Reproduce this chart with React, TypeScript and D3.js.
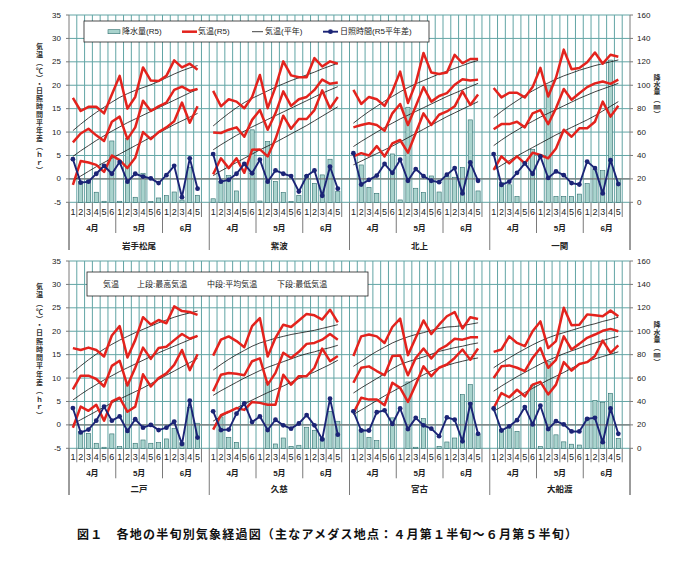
import React from "react";
import * as d3 from "d3";

// ---------------- data ----------------
// 岩手松尾
const matsuoMax = [17.3, 14.5, 15.4, 15.4, 14.0, 18.0, 22.0, 15.0, 17.5, 23.8, 21.0, 20.9, 22.0, 25.3, 23.8, 24.6, 23.3];
const matsuoMean = [7.8, 9.7, 10.7, 9.3, 8.1, 12.2, 13.3, 8.5, 11.0, 16.7, 14.5, 15.5, 16.3, 19.0, 19.7, 18.8, 19.2];
const matsuoMin = [-1.3, 3.8, 3.5, 3.0, 1.5, 5.0, 4.0, 2.3, 4.5, 10.0, 8.5, 10.0, 11.0, 12.3, 16.3, 12.0, 15.5];
const matsuoNMax = [10.3, 11.7, 13.0, 14.2, 15.3, 16.4, 17.4, 18.2, 18.9, 19.5, 20.1, 20.8, 21.6, 22.4, 23.1, 23.7, 24.2];
const matsuoNMean = [4.8, 6.0, 7.1, 8.2, 9.2, 10.2, 11.1, 12.0, 12.8, 13.6, 14.4, 15.2, 16.0, 16.8, 17.6, 18.4, 19.1];
const matsuoNMin = [-0.4, 0.6, 1.6, 2.6, 3.5, 4.4, 5.3, 6.2, 7.1, 8.0, 8.9, 9.8, 10.7, 11.6, 12.4, 13.2, 14.0];
const matsuoSun = [4.2, -0.8, -0.6, 1.1, 2.8, 1.1, 3.6, -0.6, 1.1, 0.5, 0.1, -0.9, 0.8, 2.8, -3.9, 4.4, -2.1];
const matsuoRain = [0, 17.7, 18.5, 8.6, 0.9, 52.4, 0.9, 54.7, 4.3, 24.8, 0.6, 3.7, 5.7, 8.8, 2, 30, 6];

// 紫波
const shiwaMax = [18.8, 15.5, 17.0, 16.5, 15.1, 17.5, 22.2, 15.1, 19.6, 25.1, 22.1, 21.7, 21.7, 25.8, 24.0, 25.1, 24.6];
const shiwaMean = [9.9, 9.8, 10.5, 11.0, 9.0, 12.6, 14.7, 10.5, 14.0, 18.7, 15.6, 17.0, 17.5, 19.0, 21.2, 20.3, 20.6];
const shiwaMin = [1.0, 4.4, 2.3, 4.4, 1.3, 6.2, 6.3, 4.8, 8.5, 13.5, 10.7, 12.8, 12.8, 14.7, 18.9, 15.1, 17.5];
const shiwaNMax = [11.3, 12.7, 14.0, 15.2, 16.3, 17.2, 18.0, 18.8, 19.6, 20.3, 21.0, 21.6, 22.2, 22.8, 23.5, 24.1, 24.7];
const shiwaNMean = [6.2, 7.3, 8.3, 9.3, 10.2, 11.1, 11.9, 12.7, 13.5, 14.3, 15.1, 15.9, 16.7, 17.5, 18.3, 19.0, 19.7];
const shiwaNMin = [0.7, 1.7, 2.6, 3.5, 4.4, 5.3, 6.2, 7.0, 7.8, 8.7, 9.6, 10.5, 11.4, 12.4, 13.4, 14.4, 15.4];
const shiwaSun = [5.3, -0.6, -0.2, 1.1, 3.2, 1.2, 4.1, -0.6, 1.8, 1.1, 0.6, -2.7, 0.6, 1.8, -3.6, 2.6, -2.1];
const shiwaRain = [3, 17.7, 22.8, 9.7, 0, 61.9, 1.1, 51.9, 17.7, 8.3, 0.6, 6.0, 22.8, 16.2, 23.4, 36.8, 9.1];

// 北上
const kitakamiMax = [19.0, 16.0, 17.5, 17.0, 15.6, 18.7, 22.9, 16.2, 20.4, 26.9, 22.7, 22.4, 22.7, 26.5, 24.7, 25.6, 25.6];
const kitakamiMean = [11.0, 11.5, 11.9, 11.5, 10.3, 14.0, 16.0, 11.5, 15.5, 19.6, 16.5, 17.7, 18.3, 20.1, 21.3, 21.0, 21.2];
const kitakamiMin = [4.8, 5.5, 5.0, 7.0, 4.8, 7.6, 8.3, 5.6, 9.8, 14.0, 11.5, 13.7, 14.4, 15.5, 18.7, 15.8, 18.0];
const kitakamiNMax = [11.9, 13.2, 14.4, 15.5, 16.6, 17.6, 18.6, 19.5, 20.3, 21.0, 21.7, 22.4, 23.0, 23.6, 24.2, 24.8, 25.3];
const kitakamiNMean = [6.9, 8.0, 9.0, 10.0, 11.0, 11.9, 12.8, 13.6, 14.4, 15.2, 16.0, 16.8, 17.6, 18.3, 19.0, 19.7, 20.4];
const kitakamiNMin = [3.0, 3.8, 4.6, 5.4, 6.2, 7.0, 7.9, 8.8, 9.7, 10.6, 11.5, 12.4, 13.3, 14.1, 14.9, 15.7, 16.5];
const kitakamiSun = [5.5, -1.2, -0.2, 0.7, 3.2, 1.3, 4.1, -0.4, 2.1, 0.6, -0.4, -0.7, 0.9, 2.3, -3.1, 3.5, -0.4];
const kitakamiRain = [0, 31.9, 12.8, 7.7, 0, 41.3, 2, 81.2, 12, 8.3, 22.5, 8.8, 22.5, 21.4, 29.9, 70.4, 9.7];

// 一関
const ichinosekiMax = [19.4, 17.4, 18.4, 18.4, 17.4, 19.6, 23.7, 17.6, 21.6, 27.6, 23.4, 23.7, 24.9, 27.0, 24.6, 26.5, 26.1];
const ichinosekiMean = [10.6, 11.7, 11.7, 12.2, 11.0, 14.0, 14.7, 11.7, 15.1, 19.2, 16.9, 18.3, 19.6, 20.4, 20.8, 20.3, 21.2];
const ichinosekiMin = [1.9, 4.8, 3.3, 4.8, 3.3, 5.6, 5.1, 4.4, 6.5, 10.5, 9.0, 10.8, 10.8, 12.2, 16.5, 13.3, 15.6];
const ichinosekiNMax = [13.1, 14.4, 15.6, 16.7, 17.8, 18.8, 19.7, 20.5, 21.3, 22.0, 22.6, 23.2, 23.7, 24.2, 24.6, 25.0, 25.4];
const ichinosekiNMean = [7.1, 8.3, 9.4, 10.4, 11.4, 12.3, 13.2, 14.0, 14.8, 15.6, 16.4, 17.2, 17.9, 18.6, 19.2, 19.8, 20.4];
const ichinosekiNMin = [1.9, 2.9, 3.9, 4.9, 5.8, 6.7, 7.6, 8.5, 9.4, 10.2, 11.0, 11.8, 12.6, 13.5, 14.5, 15.5, 16.5];
const ichinosekiSun = [5.3, -1.3, -0.6, 1.3, 3.3, 1.1, 4.8, 0.2, 1.6, 0.8, -0.9, -1.2, 3.7, 2.3, -3.1, 4.0, -1.1];
const ichinosekiRain = [0, 17, 15, 5, 0, 45, 1, 100, 5, 5, 5, 7, 16, 28, 27, 121.5, 20];

// 二戸
const ninoheMax = [16.4, 16.0, 16.5, 16.0, 14.6, 19.1, 21.1, 14.4, 18.1, 23.0, 21.4, 22.4, 21.7, 25.3, 24.3, 24.1, 23.5];
const ninoheMean = [7.6, 10.5, 10.5, 9.8, 8.2, 12.6, 13.7, 8.4, 12.2, 16.5, 14.1, 16.4, 16.7, 18.1, 19.4, 18.4, 19.0];
const ninoheMin = [-0.6, 3.9, 3.0, 4.3, 0.9, 5.0, 5.8, 2.8, 3.9, 10.8, 8.2, 10.0, 11.0, 12.8, 16.0, 11.7, 15.1];
const ninoheNMax = [11.2, 12.6, 13.9, 15.1, 16.2, 17.2, 18.1, 18.9, 19.7, 20.4, 21.1, 21.8, 22.4, 23.0, 23.5, 23.9, 24.3];
const ninoheNMean = [5.3, 6.5, 7.6, 8.6, 9.6, 10.5, 11.4, 12.2, 13.0, 13.8, 14.6, 15.4, 16.1, 16.8, 17.5, 18.2, 18.9];
const ninoheNMin = [0.2, 1.1, 2.0, 2.9, 3.8, 4.7, 5.5, 6.3, 7.1, 7.9, 8.8, 9.7, 10.6, 11.5, 12.4, 13.3, 14.2];
const ninoheSun = [3.6, -1.6, -1.0, 0.9, 3.9, 0.9, 1.8, -1.3, 1.2, -0.6, 0.0, -1.1, -0.6, 0.7, -4.1, 5.2, -2.7];
const ninoheRain = [0, 14.2, 12.8, 4.3, 0.9, 12.3, 1.4, 55.6, 4.3, 7.1, 4.3, 4.8, 8, 17.1, 5, 35, 21.4];

// 久慈
const kujiMax = [14.8, 18.2, 18.9, 17.9, 16.6, 21.1, 22.8, 14.6, 18.6, 21.4, 20.9, 22.3, 23.7, 23.4, 22.5, 24.6, 21.9];
const kujiMean = [7.2, 10.7, 11.1, 10.9, 10.6, 13.6, 14.2, 8.6, 11.1, 15.4, 14.3, 15.6, 17.3, 17.5, 18.2, 19.4, 18.2];
const kujiMin = [-1.0, 2.1, 2.8, 3.6, 3.2, 4.9, 4.7, 4.3, 4.3, 10.7, 8.6, 10.4, 10.4, 12.2, 16.3, 13.6, 14.7];
const kujiNMax = [11.7, 12.9, 14.0, 15.0, 15.9, 16.8, 17.5, 18.0, 18.5, 18.9, 19.3, 19.6, 19.9, 20.2, 20.6, 21.0, 21.4];
const kujiNMean = [6.3, 7.3, 8.2, 9.1, 10.0, 10.8, 11.6, 12.3, 12.9, 13.5, 14.1, 14.7, 15.2, 15.6, 16.1, 16.5, 17.0];
const kujiNMin = [0.8, 1.8, 2.7, 3.6, 4.5, 5.3, 6.1, 6.9, 7.6, 8.3, 9.1, 9.9, 10.6, 11.3, 12.1, 12.9, 13.8];
const kujiSun = [2.9, -1.1, -1.0, 2.4, 4.6, 0.6, 1.8, -1.1, 1.1, -0.1, -0.8, 0.3, 2.1, -0.1, -3.1, 5.6, -2.1];
const kujiRain = [0, 26.8, 9.4, 5.1, 0, 0, 0, 56.7, 3.7, 8.8, 1.7, 2.6, 18, 15.4, 8.8, 31.6, 23.1];

// 宮古
const miyakoMax = [14.7, 18.9, 19.3, 18.9, 17.5, 20.9, 22.7, 14.9, 18.6, 22.3, 19.4, 21.4, 23.2, 24.1, 20.6, 23.0, 22.6];
const miyakoMean = [9.0, 12.2, 12.5, 11.5, 10.6, 14.7, 14.8, 10.6, 14.3, 16.3, 14.2, 16.1, 17.0, 18.4, 18.2, 18.7, 18.7];
const miyakoMin = [2.5, 5.8, 5.4, 5.4, 4.2, 9.0, 7.9, 4.9, 8.6, 12.5, 10.4, 12.2, 12.9, 14.3, 16.1, 13.9, 16.3];
const miyakoNMax = [12.5, 13.6, 14.7, 15.7, 16.6, 17.5, 18.2, 18.8, 19.3, 19.7, 20.2, 20.6, 20.9, 21.0, 21.2, 21.5, 21.8];
const miyakoNMean = [6.8, 7.9, 8.9, 9.9, 10.9, 12.0, 12.9, 13.5, 14.0, 14.5, 15.1, 15.7, 16.1, 16.5, 16.8, 17.2, 17.5];
const miyakoNMin = [2.2, 3.2, 4.2, 5.2, 6.2, 7.1, 8.0, 8.9, 9.8, 10.7, 11.5, 12.2, 12.7, 13.2, 13.6, 14.0, 14.3];
const miyakoSun = [2.9, -1.2, -1.2, 2.7, 3.1, 0.2, 3.5, -0.9, 1.5, -0.1, -0.8, -2.4, 1.6, 1.1, -3.5, 4.5, -1.9];
const miyakoRain = [0, 16, 9.4, 6.6, 0, 26, 0, 56.7, 0.9, 25.4, 0, 1.7, 5.4, 8.8, 45.9, 54.4, 11.7];

// 大船渡
const ofunatoMax = [15.6, 16.1, 18.9, 17.5, 16.8, 20.0, 22.1, 16.4, 17.9, 25.0, 21.3, 21.4, 23.6, 23.4, 23.2, 24.4, 23.2];
const ofunatoMean = [10.0, 12.5, 12.7, 12.2, 11.5, 14.3, 16.4, 12.2, 13.9, 18.9, 16.1, 17.3, 18.6, 19.3, 20.1, 20.5, 20.0];
const ofunatoMin = [3.6, 6.8, 5.9, 7.5, 6.1, 8.6, 9.2, 6.5, 8.6, 13.4, 11.6, 13.0, 13.4, 14.7, 18.0, 15.4, 17.0];
const ofunatoNMax = [12.2, 13.3, 14.3, 15.3, 16.2, 17.1, 17.9, 18.6, 19.2, 19.7, 20.2, 20.7, 21.2, 21.6, 22.1, 22.5, 23.0];
const ofunatoNMean = [7.2, 8.3, 9.3, 10.3, 11.2, 12.1, 13.0, 13.8, 14.5, 15.2, 15.8, 16.4, 17.0, 17.5, 18.0, 18.5, 18.9];
const ofunatoNMin = [2.9, 3.9, 4.9, 5.9, 6.9, 7.8, 8.7, 9.6, 10.4, 11.2, 12.1, 12.9, 13.5, 14.1, 14.6, 15.1, 15.6];
const ofunatoSun = [3.5, -1.2, -0.3, 1.0, 3.8, 0.1, 4.1, -0.9, 0.8, 0.1, -1.4, -1.4, 1.3, 1.5, -3.7, 3.5, -1.9];
const ofunatoRain = [0, 16, 17.4, 14.5, 0, 54, 1.5, 74, 11.5, 5.5, 3.5, 2.8, 25, 41, 39, 47, 8.5];

// labels
const halfLabels = ["1", "2", "3", "4", "5", "6", "1", "2", "3", "4", "5", "6", "1", "2", "3", "4", "5"];
const monthLabels = ["4月", "5月", "6月"];
const leftTicks = [-5, 0, 5, 10, 15, 20, 25, 30, 35];
const rightTicks = [0, 20, 40, 60, 80, 100, 120, 140, 160];
const leftTitle = "気温（℃）・日照時間平年差（ｈｒ）";
const rightTitle = "降水量（㎜）";
const caption = "図１　各地の半旬別気象経過図（主なアメダス地点：４月第１半旬～６月第５半旬）";

type St = {
  name: string; max: number[]; mean: number[]; min: number[];
  nmax: number[]; nmean: number[]; nmin: number[]; sun: number[]; rain: number[];
};

const topStations: St[] = [
  { name: "岩手松尾", max: matsuoMax, mean: matsuoMean, min: matsuoMin, nmax: matsuoNMax, nmean: matsuoNMean, nmin: matsuoNMin, sun: matsuoSun, rain: matsuoRain },
  { name: "紫波", max: shiwaMax, mean: shiwaMean, min: shiwaMin, nmax: shiwaNMax, nmean: shiwaNMean, nmin: shiwaNMin, sun: shiwaSun, rain: shiwaRain },
  { name: "北上", max: kitakamiMax, mean: kitakamiMean, min: kitakamiMin, nmax: kitakamiNMax, nmean: kitakamiNMean, nmin: kitakamiNMin, sun: kitakamiSun, rain: kitakamiRain },
  { name: "一関", max: ichinosekiMax, mean: ichinosekiMean, min: ichinosekiMin, nmax: ichinosekiNMax, nmean: ichinosekiNMean, nmin: ichinosekiNMin, sun: ichinosekiSun, rain: ichinosekiRain },
];
const bottomStations: St[] = [
  { name: "二戸", max: ninoheMax, mean: ninoheMean, min: ninoheMin, nmax: ninoheNMax, nmean: ninoheNMean, nmin: ninoheNMin, sun: ninoheSun, rain: ninoheRain },
  { name: "久慈", max: kujiMax, mean: kujiMean, min: kujiMin, nmax: kujiNMax, nmean: kujiNMean, nmin: kujiNMin, sun: kujiSun, rain: kujiRain },
  { name: "宮古", max: miyakoMax, mean: miyakoMean, min: miyakoMin, nmax: miyakoNMax, nmean: miyakoNMean, nmin: miyakoNMin, sun: miyakoSun, rain: miyakoRain },
  { name: "大船渡", max: ofunatoMax, mean: ofunatoMean, min: ofunatoMin, nmax: ofunatoNMax, nmean: ofunatoNMean, nmin: ofunatoNMin, sun: ofunatoSun, rain: ofunatoRain },
];

// ---------------- layout / style ----------------
const X0 = 69;
const X1 = 630;
const NCAT = 72;
const PER = 18;
const PLOT_H = 187.3;
const FONT = "'Liberation Sans', Arial, 'Noto Sans CJK JP', sans-serif";
const JFONT = "'Noto Sans CJK JP', sans-serif";
const GRID = "#62a5a5";
const AXIS = "#7a7a7a";
const RED = "#e3231d";
const NAVY = "#1b2476";
const BAR_FILL = "#a9d3cd";
const BAR_STROKE = "#2f6e6e";

type Offs = { num: number; numSep: number; mon: number; monSep: number; sta: number; staSep: number; lt0: number; ltLen: number; rt0: number; rtLen: number };

function Panel({ top, stations, offs, legend }: { top: number; stations: St[]; offs: Offs; legend: React.ReactNode }) {
  const bottom = top + PLOT_H;
  const x = d3.scaleLinear().domain([0, NCAT]).range([X0, X1]);
  const y = d3.scaleLinear().domain([-5, 35]).range([bottom, top]);
  const yR = d3.scaleLinear().domain([0, 160]).range([bottom, top]);
  const cats = d3.range(NCAT + 1);

  const mk = (s: number) =>
    d3.line<number>().x((_, i) => x(s * PER + i + 0.5)).y((d) => y(d));

  const vStyle: React.CSSProperties = { writingMode: "vertical-rl" as any, textOrientation: "upright" as any };

  return (
    <g>
      {leftTicks.map((t) => (
        <line key={"h" + t} x1={X0} x2={X1} y1={y(t)} y2={y(t)} stroke={GRID} strokeWidth={1} />
      ))}
      {cats.slice(1, NCAT).map((k) => (
        <line key={"v" + k} x1={x(k)} x2={x(k)} y1={top} y2={bottom} stroke={GRID} strokeWidth={1} />
      ))}
      {stations.map((st, s) =>
        st.rain.map((r, i) =>
          r > 0 ? (
            <rect key={`b${s}-${i}`} x={x(s * PER + i + 0.5) - 2.1} y={yR(r)} width={4.2}
              height={bottom - yR(r)} fill={BAR_FILL} stroke={BAR_STROKE} strokeWidth={0.6} />
          ) : null
        )
      )}
      <line x1={X0} x2={X1} y1={y(0)} y2={y(0)} stroke={AXIS} strokeWidth={1.4} />
      {stations.map((st, s) => {
        const line = mk(s);
        return (
          <g key={"l" + s} fill="none">
            {[st.nmax, st.nmean, st.nmin].map((arr, j) => (
              <path key={"n" + j} d={line(arr) || ""} stroke="#111" strokeWidth={0.8} />
            ))}
            {[st.max, st.mean, st.min].map((arr, j) => (
              <path key={"r" + j} d={line(arr) || ""} stroke={RED} strokeWidth={2.5} strokeLinejoin="round" />
            ))}
            <path d={line(st.sun) || ""} stroke={NAVY} strokeWidth={1.9} strokeLinejoin="round" />
            {st.sun.map((v, i) => (
              <circle key={"c" + i} cx={x(s * PER + i + 0.5)} cy={y(v)} r={2.4} fill={NAVY} />
            ))}
          </g>
        );
      })}
      <line x1={X0} x2={X0} y1={top} y2={bottom + offs.staSep} stroke={AXIS} strokeWidth={1} />
      <line x1={X1} x2={X1} y1={top} y2={bottom + offs.staSep} stroke={AXIS} strokeWidth={1} />
      {leftTicks.map((t) => (
        <g key={"lt" + t}>
          <line x1={X0 - 3} x2={X0} y1={y(t)} y2={y(t)} stroke={AXIS} />
          <text x={X0 - 8} y={y(t)} textAnchor="end" dominantBaseline="central" fontSize={8} fontFamily={FONT} fill="#222">{t}</text>
        </g>
      ))}
      {rightTicks.map((t) => (
        <g key={"rt" + t}>
          <line x1={X1} x2={X1 + 3} y1={yR(t)} y2={yR(t)} stroke={AXIS} />
          <text x={X1 + 7} y={yR(t)} textAnchor="start" dominantBaseline="central" fontSize={8} fontFamily={FONT} fill="#222">{t}</text>
        </g>
      ))}
      {cats.map((k) => {
        const pos = k % PER;
        const len = pos === 0 ? offs.staSep : pos === 6 || pos === 12 ? offs.monSep : offs.numSep;
        return <line key={"s" + k} x1={x(k)} x2={x(k)} y1={bottom} y2={bottom + len} stroke={AXIS} strokeWidth={1} />;
      })}
      {stations.map((st, s) => (
        <g key={"cl" + s}>
          {halfLabels.map((lb, i) => (
            <text key={"n" + i} x={x(s * PER + i + 0.5)} y={bottom + offs.num} textAnchor="middle" dominantBaseline="central"
              fontSize={9} fontFamily={FONT} fill="#222">{lb}</text>
          ))}
          {monthLabels.map((m, j) => (
            <text key={"m" + j} x={x(s * PER + j * 6 + 3)} y={bottom + offs.mon} textAnchor="middle" dominantBaseline="central"
              fontSize={8} fontWeight="bold" fontFamily={FONT} fill="#222">{m}</text>
          ))}
          <text x={x(s * PER + 9)} y={bottom + offs.sta} textAnchor="middle" dominantBaseline="central"
            fontSize={8.5} fontWeight="bold" fontFamily={JFONT} fill="#222">{st.name}</text>
        </g>
      ))}
      <text x={39.5} y={top + offs.lt0} style={vStyle} fontSize={7} fontFamily={JFONT} fontWeight="bold" fill="#333"
        textLength={offs.ltLen} lengthAdjust="spacing">{leftTitle}</text>
      <text x={657} y={top + offs.rt0} style={vStyle} fontSize={7} fontFamily={JFONT} fontWeight="bold" fill="#333"
        textLength={offs.rtLen} lengthAdjust="spacing">{rightTitle}</text>
      {legend}
    </g>
  );
}

function TopLegend() {
  const cy = 31.7;
  const ts = { fontSize: 8, fontFamily: FONT, fill: "#222" } as const;
  return (
    <g>
      <rect x={84} y={21} width={345} height={21} fill="#fff" stroke="#222" strokeWidth={0.8} />
      <rect x={108} y={cy - 2} width={12} height={4} fill={BAR_FILL} stroke={BAR_STROKE} strokeWidth={0.6} />
      <text x={122} y={cy} dominantBaseline="central" {...ts}>降水量(R5)</text>
      <line x1={182} x2={197} y1={cy} y2={cy} stroke={RED} strokeWidth={2.5} />
      <text x={198} y={cy} dominantBaseline="central" {...ts}>気温(R5)</text>
      <line x1={252} x2={263} y1={cy} y2={cy} stroke="#111" strokeWidth={0.8} />
      <text x={265} y={cy} dominantBaseline="central" {...ts}>気温(平年)</text>
      <line x1={323} x2={338} y1={cy} y2={cy} stroke={NAVY} strokeWidth={1.9} />
      <circle cx={330.5} cy={cy} r={2.4} fill={NAVY} />
      <text x={340} y={cy} dominantBaseline="central" {...ts}>日照時間(R5平年差)</text>
    </g>
  );
}

function BottomLegend() {
  const cy = 284;
  const ts = { fontSize: 8, fontFamily: FONT, fill: "#222" } as const;
  return (
    <g>
      <rect x={87} y={272} width={281} height={24} fill="#fff" stroke="#222" strokeWidth={0.8} />
      <text x={103} y={cy} dominantBaseline="central" {...ts}>気温</text>
      <text x={137} y={cy} dominantBaseline="central" {...ts}>上段:最高気温</text>
      <text x={207} y={cy} dominantBaseline="central" {...ts}>中段:平均気温</text>
      <text x={277} y={cy} dominantBaseline="central" {...ts}>下段:最低気温</text>
    </g>
  );
}

const topOffs: Offs = { num: 9.7, numSep: 14.7, mon: 26, monSep: 30.7, sta: 42.7, staSep: 47.7, lt0: 28, ltLen: 131, rt0: 58.5, rtLen: 44 };
const botOffs: Offs = { num: 8.7, numSep: 14, mon: 24.7, monSep: 30, sta: 39.2, staSep: 46.7, lt0: 22, ltLen: 136, rt0: 60, rtLen: 45 };

export default function App() {
  return (
    <svg width={690} height={568} viewBox="0 0 690 568"
      style={{ position: "fixed", left: 0, top: 0, background: "#fff", display: "block" }}>
      <rect x={0} y={0} width={690} height={568} fill="#fff" />
      <Panel top={15} stations={topStations} offs={topOffs} legend={<TopLegend />} />
      <Panel top={261} stations={bottomStations} offs={botOffs} legend={<BottomLegend />} />
      <text x={77} y={533} dominantBaseline="central" fontSize={12} fontWeight="bold" fontFamily={JFONT}
        fill="#111" textLength={500} lengthAdjust="spacing">{caption}</text>
    </svg>
  );
}
